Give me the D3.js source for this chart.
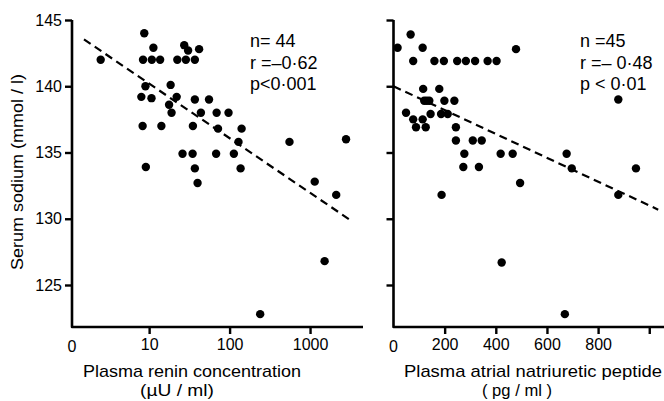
<!DOCTYPE html>
<html>
<head>
<meta charset="utf-8">
<script src="https://cdn.jsdelivr.net/npm/d3@7"></script>
<style>
	body { margin: 0; background: #fff; }
	text { font-family: "Liberation Sans", Arial, sans-serif; fill: #000; }
</style>
</head>
<body>
<svg width="664" height="401"></svg>
<script>

// left panel: plasma renin (uU/ml, log) vs serum sodium
var reninX = [2.5, 8.7, 11.3, 8.4, 10.8, 13.7, 22.4, 28.6, 37, 27.3, 30.5, 41.8,
	9.0, 18.5, 8.0, 10.7, 22, 17.7, 19, 37, 55.5, 44, 69, 97,
	8.3, 14.2, 35, 71.8, 141, 129, 555, 26, 34.7, 68, 113,
	9.1, 37, 137, 40, 1143, 2114, 1517, 240, 2800];
var reninY = [142.0, 144.0, 142.9, 142.0, 142.0, 142.0, 142.0, 142.0, 142.0, 143.1, 142.7, 142.8,
	140.0, 140.1, 139.2, 139.1, 139.2, 138.6, 138.0, 139.0, 139.0, 138.0, 138.0, 138.0,
	137.0, 137.0, 137.0, 136.8, 136.8, 135.8, 135.8, 134.9, 134.9, 134.9, 134.9,
	133.9, 133.8, 133.8, 132.7, 132.8, 131.8, 126.8, 122.8, 136.0];

// right panel: plasma ANP (pg/ml) vs serum sodium
var anpX = [16, 67, 114, 479, 77, 160, 197, 249, 283, 319, 368, 403,
	116, 179, 120, 140, 199, 238, 49, 145, 186, 212, 77, 114,
	88, 126, 244, 244, 310, 345, 277, 419, 466, 677, 273, 334,
	697, 948, 495, 879, 879, 188, 423, 670, 130];
var anpY = [142.9, 143.9, 142.9, 142.8, 141.9, 141.9, 141.9, 141.9, 141.9, 141.9, 141.9, 141.9,
	139.8, 139.8, 138.9, 138.9, 138.9, 138.9, 138.0, 137.9, 137.9, 137.9, 137.5, 137.5,
	136.9, 136.9, 136.9, 135.9, 135.9, 135.9, 134.9, 134.9, 134.9, 134.9, 133.9, 133.9,
	133.8, 133.8, 132.7, 139.0, 131.8, 131.8, 126.7, 122.8, 138.9];

var yTicks = [125, 130, 135, 140, 145];
var reninTicks = [10, 100, 1000];
var anpTicks = [200, 400, 600, 800, 1000];

// fitted lines: y = a + b*log10(x) and y = a + b*x
var reninFit = {a: 144.32, b: -4.12, from: 1.55, to: 3030};
var anpFit = {a: 140.0, b: -0.0090, from: 0, to: 1035};

var reninStats = ['n= 44', 'r =\u20130\u00b762', 'p<0\u00b7001'];
var anpStats = ['n =45', 'r =\u2013 0\u00b748', 'p < 0\u00b701'];

var svg = d3.select('svg');

var y = d3.scaleLinear().domain([121.83, 145]).range([327, 20]);
var xl = d3.scaleLog().domain([1.1, 4550]).range([72, 363]);
var xr = d3.scaleLinear().domain([0, 1060]).range([393.5, 664.6]);

function frame(x) {
	var x0 = x.range()[0], x1 = x.range()[1], yb = y.range()[0];
	svg.append('path')
		.attr('d', 'M' + x0 + ',' + y(145) + 'V' + yb + 'H' + x1)
		.attr('fill', 'none')
		.attr('stroke', '#000')
		.attr('stroke-width', 2.6)
		.attr('stroke-linejoin', 'round');
}

function styleAxis(g) {
	g.select('.domain').remove();
	g.selectAll('line').attr('stroke', '#000').attr('stroke-width', 2.4);
	g.selectAll('text').attr('font-size', 16).attr('fill', '#000');
}

function label(x, yy, txt, len) {
	return svg.append('text')
		.attr('x', x).attr('y', yy)
		.attr('text-anchor', 'middle')
		.attr('font-size', 17)
		.attr('textLength', len)
		.attr('lengthAdjust', 'spacingAndGlyphs')
		.text(txt);
}

// left panel
frame(xl);
svg.append('g')
	.attr('transform', 'translate(' + xl.range()[0] + ',0)')
	.call(d3.axisLeft(y).tickValues(yTicks).tickSize(7).tickPadding(3).tickFormat(d3.format('d')))
	.call(styleAxis);

svg.append('g')
	.attr('transform', 'translate(0,' + y.range()[0] + ')')
	.call(d3.axisBottom(xl).tickValues(reninTicks).tickSize(7).tickPadding(5).tickFormat(d3.format('d')))
	.call(styleAxis);

svg.append('text')
	.attr('x', xl.range()[0])
	.attr('y', y.range()[0] + 25)
	.attr('text-anchor', 'middle')
	.attr('font-size', 16)
	.text('0');

svg.append('line')
	.attr('x1', xl(reninFit.from))
	.attr('y1', y(reninFit.a + reninFit.b * Math.log10(reninFit.from)))
	.attr('x2', xl(reninFit.to))
	.attr('y2', y(reninFit.a + reninFit.b * Math.log10(reninFit.to)))
	.attr('stroke', '#000')
	.attr('stroke-width', 2.2)
	.attr('stroke-dasharray', '8,5');

svg.append('g').selectAll('circle')
	.data(reninX)
	.enter().append('circle')
		.attr('cx', function (d) { return xl(d); })
		.attr('cy', function (d, i) { return y(reninY[i]); })
		.attr('r', 4.2)
		.attr('fill', '#000');

svg.append('g').selectAll('text')
	.data(reninStats)
	.enter().append('text')
		.attr('x', 250)
		.attr('y', function (d, i) { return 47 + i * 21.5; })
		.attr('font-size', 18)
		.text(function (d) { return d; });

svg.append('text')
	.attr('transform', 'translate(23,172) rotate(-90)')
	.attr('text-anchor', 'middle')
	.attr('font-size', 17)
	.attr('textLength', 196)
	.attr('lengthAdjust', 'spacingAndGlyphs')
	.text('Serum sodium (mmol / l)');

label(192, 377, 'Plasma renin concentration', 218);
label(177, 396, '(\u00b5U / ml)', 74);

// right panel
frame(xr);
svg.append('g')
	.attr('transform', 'translate(' + xr.range()[0] + ',0)')
	.call(d3.axisLeft(y).tickValues(yTicks).tickSize(7).tickFormat(''))
	.call(styleAxis);

svg.append('g')
	.attr('transform', 'translate(0,' + y.range()[0] + ')')
	.call(d3.axisBottom(xr).tickValues(anpTicks).tickSize(7).tickPadding(5)
		.tickFormat(function (d) { return d < 1000 ? d : ''; }))
	.call(styleAxis);

svg.append('text')
	.attr('x', xr(0))
	.attr('y', y.range()[0] + 25)
	.attr('text-anchor', 'middle')
	.attr('font-size', 16)
	.text('0');

svg.append('line')
	.attr('x1', xr(anpFit.from))
	.attr('y1', y(anpFit.a + anpFit.b * anpFit.from))
	.attr('x2', xr(anpFit.to))
	.attr('y2', y(anpFit.a + anpFit.b * anpFit.to))
	.attr('stroke', '#000')
	.attr('stroke-width', 2.2)
	.attr('stroke-dasharray', '8,5');

svg.append('g').selectAll('circle')
	.data(anpX)
	.enter().append('circle')
		.attr('cx', function (d) { return xr(d); })
		.attr('cy', function (d, i) { return y(anpY[i]); })
		.attr('r', 4.2)
		.attr('fill', '#000');

svg.append('g').selectAll('text')
	.data(anpStats)
	.enter().append('text')
		.attr('x', 580)
		.attr('y', function (d, i) { return 47 + i * 21.5; })
		.attr('font-size', 18)
		.text(function (d) { return d; });

label(533, 377, 'Plasma atrial natriuretic peptide', 258);
label(517, 396, '( pg / ml )', 70);

</script>
</body>
</html>
